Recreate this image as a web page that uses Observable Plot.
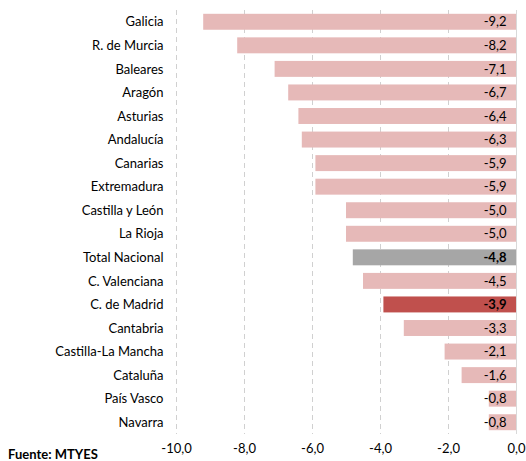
<!DOCTYPE html>
<html>
<head>
<meta charset="utf-8">
<script src="https://cdn.jsdelivr.net/npm/d3@7"></script>
<script src="https://cdn.jsdelivr.net/npm/@observablehq/plot@0.6"></script>
<style>
  body { margin: 0; background: #fff; }
  #wrap { position: relative; width: 526px; height: 461px; }
  #src { position: absolute; left: 8px; top: 446px; font: bold 13px Lato, "Liberation Sans", sans-serif; color: #000; }
</style>
</head>
<body>
<div id="wrap"><div id="chart"></div><div id="src">Fuente: MTYES</div></div>
<script>
const regions = ["Galicia","R. de Murcia","Baleares","Aragón","Asturias","Andalucía","Canarias","Extremadura","Castilla y León","La Rioja","Total Nacional","C. Valenciana","C. de Madrid","Cantabria","Castilla-La Mancha","Cataluña","País Vasco","Navarra"];
const values = [-9.2,-8.2,-7.1,-6.7,-6.4,-6.3,-5.9,-5.9,-5.0,-5.0,-4.8,-4.5,-3.9,-3.3,-2.1,-1.6,-0.8,-0.8];
const groups = ["reg","reg","reg","reg","reg","reg","reg","reg","reg","reg","total","reg","madrid","reg","reg","reg","reg","reg"];
const xTicks = [-10,-8,-6,-4,-2,0];

const data = regions.map((r, i) => ({region: r, value: values[i], group: groups[i]}));
const fmt = d => d.toFixed(1).replace(".", ",");
const font = "Lato, 'Liberation Sans', sans-serif";

const chart = Plot.plot({
  width: 526,
  height: 461,
  marginLeft: 176,
  marginRight: 10,
  marginTop: 10,
  marginBottom: 27,
  style: {fontFamily: font, fontSize: "13px", color: "#000", background: "#fff"},
  x: {domain: [-10, 0], ticks: xTicks, tickFormat: fmt, tickSize: 0, tickPadding: 9, label: null},
  y: {domain: regions, padding: 0, round: false, tickSize: 0, tickPadding: 13, label: null},
  color: {domain: ["reg","total","madrid"], range: ["#e6b9b8","#a6a6a6","#c0504d"]},
  marks: [
    Plot.ruleX(xTicks.filter(d => d !== 0), {stroke: "#d0d0d0", strokeDasharray: "5,4", strokeWidth: 1}),
    Plot.barX(data, {x: "value", y: "region", fill: "group", insetTop: 3.8, insetBottom: 3.8}),
    Plot.ruleX([0], {stroke: "#d9d9d9", strokeWidth: 1}),
    Plot.text(data.filter(d => d.group === "reg"), {x: 0, y: "region", text: d => fmt(d.value), textAnchor: "end", dx: -10,
      fill: "#000", fontSize: 13}),
    Plot.text(data.filter(d => d.group !== "reg"), {x: 0, y: "region", text: d => fmt(d.value), textAnchor: "end", dx: -10,
      fill: "#000", fontSize: 13, fontWeight: "bold"})
  ]
});
document.getElementById("chart").appendChild(chart);
</script>
</body>
</html>
